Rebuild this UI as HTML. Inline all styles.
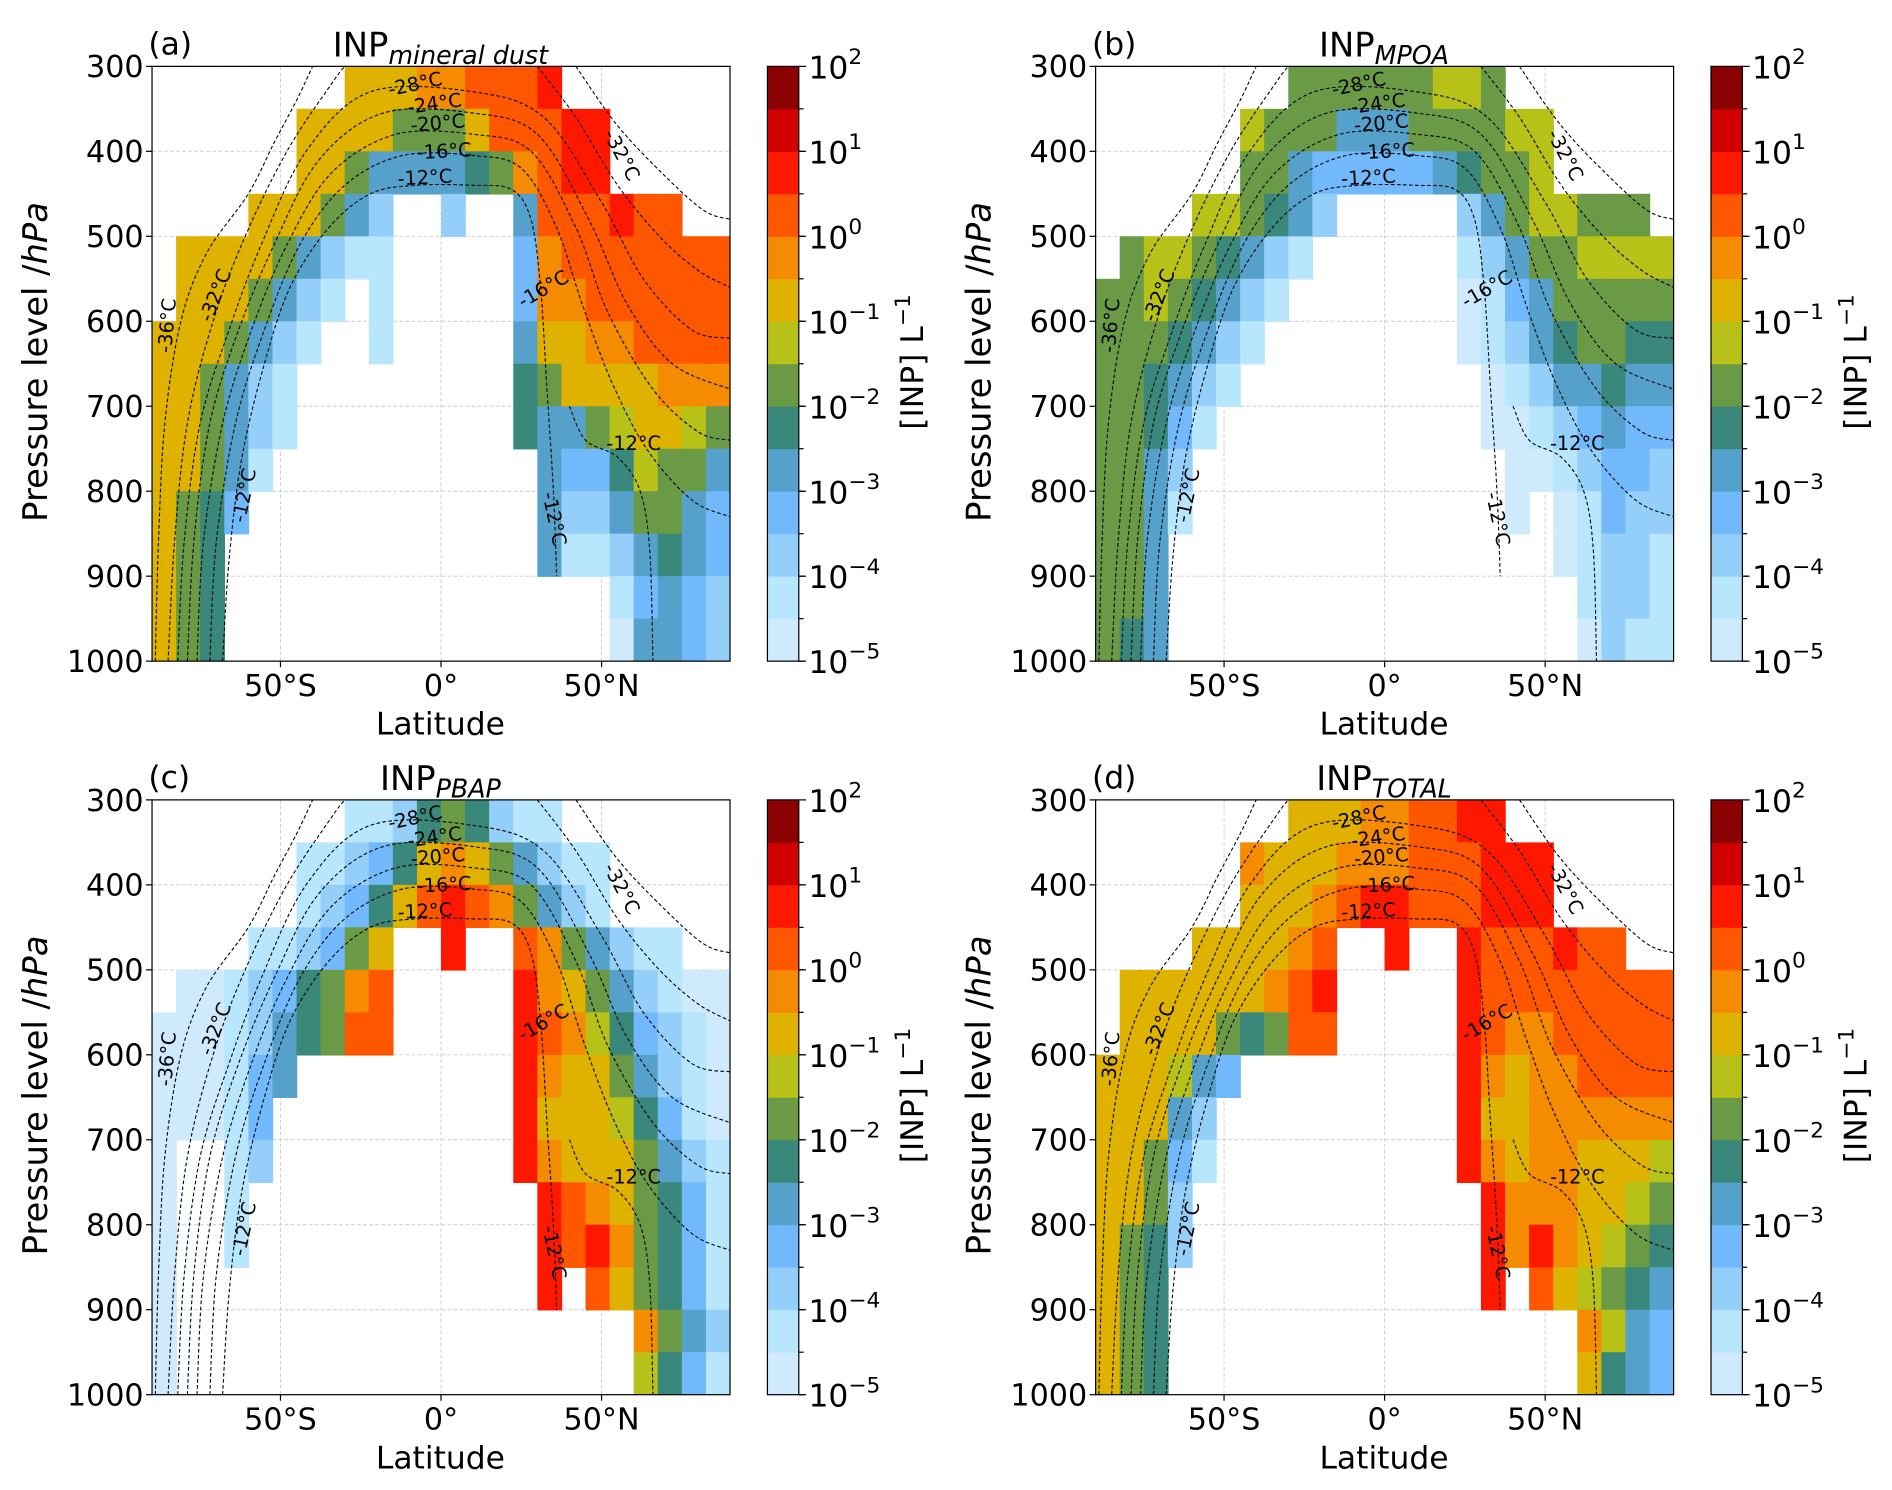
<!DOCTYPE html>
<html><head><meta charset="utf-8"><style>
html,body{margin:0;padding:0;background:#fff;}
svg{display:block;}
text{font-family:"DejaVu Sans","Liberation Sans",sans-serif;fill:#000;}
</style></head><body>
<svg id="fig" xmlns="http://www.w3.org/2000/svg" width="1892" height="1490" viewBox="0 0 1568 1235" preserveAspectRatio="none"></svg>
<script>
// ---- data ----
const latEdges = [-90,-82.5,-75,-67.5,-60,-52.5,-45,-37.5,-30,-22.5,-15,-7.5,0,7.5,15,22.5,30,37.5,45,52.5,60,67.5,75,82.5,90];
const presEdges = [300,350,400,450,500,550,600,650,700,750,800,850,900,950,1000];
const levelBounds = [-5,-4.5,-4,-3.5,-3,-2.5,-2,-1.5,-1,-0.5,0,0.5,1,1.5,2];
const levelColors = ["#cfe9fd","#b8e6fd","#94cffa","#72b9fb","#55a1cb","#3a877b","#6a9a46","#b7c118","#dfb200","#f48b00","#fe5700","#fe1800","#d00000","#8b0000"];
const cbTickExp = [-5,-4,-3,-2,-1,0,1,2];
const latTicks = [-50,0,50];
const latTickLabels = ["50°S","0°","50°N"];
const presTicks = [300,400,500,600,700,800,900,1000];
// level codes per cell (0-9,a-d = colour bin; '.' = no data), rows top (300hPa) to bottom
const dustGrid = [
"........88899aaab.......",
"......88886668aaabb.....",
"......8864444569abb.....",
"....888642..2..4aaabaa..",
".888864211.....39aaaaaaa",
".8886421.1.....399aaaaaa",
"8886421..1.....48899aaaa",
"886421.........568888999",
"886421.........544678876",
"88641...........43357664",
"8653............42246643",
"865.............41124543",
"865................13432",
"865................04432"];
const mpoaGrid = [
"........666666776.......",
"......7666444666677.....",
"......6643333345667.....",
"....776542.....24677666.",
".67765421......124667777",
"66765421.......013466666",
"6665421........012456655",
"665421..........01244544",
"66531...........00123433",
"6642.............0012332",
"6641.............0.01322",
"664................01221",
"664.................1221",
"654.................0211"];
const pbapGrid = [
"........112565211.......",
"......1123589864211.....",
"......12358aba96421.....",
"....112368..b..a964211..",
".00123569a.....b98642100",
"00012456aa.....ba9753210",
"000134.........b98864210",
"00013..........b88875310",
"0..12..........b98886421",
"0..1............ba986531",
"0..1............bab96531",
"0...............b.a86531",
"0...................9642",
"0...................7531"];
const totalGrid = [
"........88899aabb.......",
"......9888999aaabbb.....",
"......8889abbaaabbb.....",
"....88889a..b..baaabaa..",
".8888889ab.....baaaaaaaa",
".8888656aa.....ba99aaaaa",
"888743.........b9899aaaa",
"88842..........b88999999",
"88631..........b98998887",
"8862............b9998876",
"8652............b9b98765",
"865.............b.a87654",
"865.................9743",
"865.................8543"];
// isotherms as [lat, pressure] pairs
const isoM12 = [[-68,1000],[-66,880],[-62,760],[-55,650],[-47,560],[-35,490],[-22,450],[-8,440],[10,440],[22,445],[28,480],[31,560],[33,680],[35,800],[36,900]];
const isoM12b = [[40,700],[45,740],[55,760],[62,800],[65,870],[66,1000]];
const isoM16 = [[-72,1000],[-70,860],[-64,720],[-55,610],[-44,510],[-30,440],[-12,405],[10,405],[25,420],[36,490],[44,580],[53,670],[64,750],[78,810],[90,830]];
const isoM20 = [[-76,1000],[-74,860],[-68,720],[-59,610],[-48,510],[-34,425],[-14,380],[10,380],[28,400],[42,490],[52,590],[66,680],[80,730],[90,740]];
const isoM24 = [[-79,1000],[-77,860],[-72,720],[-63,610],[-52,510],[-38,410],[-18,355],[10,355],[30,380],[46,480],[58,580],[72,650],[90,680]];
const isoM28 = [[-82,1000],[-80,860],[-75,720],[-66,610],[-56,510],[-42,400],[-22,330],[10,330],[32,360],[50,460],[63,550],[78,610],[90,620]];
const isoM32 = [[-85,1000],[-83,860],[-79,720],[-71,600],[-61,500],[-48,400],[-34,320],[-30,300]];
const isoM32b = [[30,300],[42,360],[55,440],[68,500],[80,540],[90,560]];
const isoM36 = [[-89,1000],[-88,860],[-86,720],[-81,600],[-73,520],[-60,450],[-52,390],[-45,340],[-40,300]];
const isoM36b = [[42,300],[55,370],[70,430],[82,470],[90,480]];
const isoLines = [isoM12,isoM12b,isoM16,isoM20,isoM24,isoM28,isoM32,isoM32b,isoM36,isoM36b];
const isoLabelText = ["-28°C","-24°C","-20°C","-16°C","-12°C","-32°C","-32°C","-36°C","-16°C","-12°C","-12°C","-12°C"];
const isoLabelLat = [-8,-2,-1,1,-5,56,-70,-85,32,60,-61,35];
const isoLabelP = [322,345,368,401,432,405,570,605,563,745,805,833];
const isoLabelRot = [-12,-8,-5,-3,-3,62,-68,-85,-30,0,-78,78];

const svg = document.getElementById('fig');
const NS = 'http://www.w3.org/2000/svg';
function mk(tag, attrs, parent){ const e=document.createElementNS(NS,tag); for(const k in attrs) e.setAttribute(k,attrs[k]); (parent||svg).appendChild(e); return e; }

const X0=126, X1=605, Y0=55, Y1=548;
const panels = [
 {id:'a', dx:0, dy:0, grid:dustGrid, sub:'mineral dust'},
 {id:'b', dx:782, dy:0, grid:mpoaGrid, sub:'MPOA'},
 {id:'c', dx:0, dy:608, grid:pbapGrid, sub:'PBAP'},
 {id:'d', dx:782, dy:608, grid:totalGrid, sub:'TOTAL'}
];
function codeToIdx(ch){ if(ch==='.') return -1; return parseInt(ch,16); }
function smoothPath(pts){
  let d='M'+pts[0][0].toFixed(1)+' '+pts[0][1].toFixed(1);
  for(let i=0;i<pts.length-1;i++){
    const p0=pts[Math.max(0,i-1)],p1=pts[i],p2=pts[i+1],p3=pts[Math.min(pts.length-1,i+2)];
    const c1=[p1[0]+(p2[0]-p0[0])/6,p1[1]+(p2[1]-p0[1])/6], c2=[p2[0]-(p3[0]-p1[0])/6,p2[1]-(p3[1]-p1[1])/6];
    d+=' C'+c1[0].toFixed(1)+' '+c1[1].toFixed(1)+' '+c2[0].toFixed(1)+' '+c2[1].toFixed(1)+' '+p2[0].toFixed(1)+' '+p2[1].toFixed(1);
  }
  return d;
}

panels.forEach(P=>{
  const g = mk('g',{transform:`translate(${P.dx},${P.dy})`});
  
  
  const xs = lat=> X0+(lat+90)/180*(X1-X0);
  const ys = p=> Y0+(p-300)/700*(Y1-Y0);
  const clipId='clip'+P.id;
  const cp=mk('clipPath',{id:clipId},g); mk('rect',{x:X0,y:Y0,width:X1-X0,height:Y1-Y0},cp);
  latTicks.forEach(t=>{ const l=mk('line',{x1:xs(t),x2:xs(t),y1:Y0,y2:Y1,stroke:'#ccc','stroke-width':0.8,'stroke-dasharray':'3 2'},g);   });
  presTicks.forEach(t=>{ const l=mk('line',{x1:X0,x2:X1,y1:ys(t),y2:ys(t),stroke:'#ccc','stroke-width':0.8,'stroke-dasharray':'3 2'},g);   });
  const cells = mk('g',{'clip-path':`url(#${clipId})`},g);
  
  
  P.grid.forEach((row,r)=>{
    for(let c=0;c<row.length;c++){
      const k=codeToIdx(row[c]); if(k<0) continue;
      const x=xs(latEdges[c]), x2=xs(latEdges[c+1]), y=ys(presEdges[r]), y2=ys(presEdges[r+1]);
      const rc=mk('rect',{x:x,y:y,width:x2-x+0.6,height:y2-y+0.6,fill:levelColors[k]},cells);
      
      
    }
  });
  const iso = mk('g',{'clip-path':`url(#${clipId})`,fill:'none',stroke:'#000','stroke-width':0.9,'stroke-dasharray':'3 2'},g);
  
  
  isoLines.forEach(L=>{ const pth=mk('path',{d:smoothPath(L.map(q=>[xs(q[0]),ys(q[1])]))},iso);   });
  isoLabelText.forEach((t,i)=>{
    const x=xs(isoLabelLat[i]), y=ys(isoLabelP[i]);
    const tx=mk('text',{x:x,y:y,'font-size':16,'text-anchor':'middle','dominant-baseline':'middle',transform:`rotate(${isoLabelRot[i]} ${x} ${y})`},g);
    tx.textContent=t;
    
    
  });
  const fr=mk('rect',{x:X0,y:Y0,width:X1-X0,height:Y1-Y0,fill:'none',stroke:'#000','stroke-width':1},g);
   
  latTicks.forEach((t,i)=>{
    mk('line',{x1:xs(t),x2:xs(t),y1:Y1,y2:Y1+5,stroke:'#000'},g);
    const tx=mk('text',{x:xs(t),y:Y1+29,'font-size':25,'text-anchor':'middle'},g); tx.textContent=latTickLabels[i];
     
  });
  presTicks.forEach(t=>{
    mk('line',{x1:X0-5,x2:X0,y1:ys(t),y2:ys(t),stroke:'#000'},g);
    const tx=mk('text',{x:X0-7,y:ys(t)+9,'font-size':25,'text-anchor':'end'},g); tx.textContent=String(t);
     
  });
  const xl=mk('text',{x:365,y:609,'font-size':26,'text-anchor':'middle'},g); xl.textContent='Latitude';
   
  const yl=mk('text',{x:0,y:0,'font-size':28,'text-anchor':'middle',transform:'translate(39 300) rotate(-90)'},g);
  yl.innerHTML='Pressure level /<tspan font-style="italic">hPa</tspan>';
   
  const pl=mk('text',{x:123,y:45,'font-size':26},g); pl.textContent='('+P.id+')';
   
  const ti=mk('text',{x:365,y:47,'font-size':28,'text-anchor':'middle'},g);
  ti.innerHTML='INP<tspan font-size="21" font-style="italic" dy="6">'+P.sub+'</tspan>';
   
  const CX=636, CW=26;
  const cb=mk('g',{},g);  
  const cys = v=> Y1-(v+5)/7*(Y1-Y0);
  levelColors.forEach((col,k)=>{
    const y=cys(levelBounds[k+1]), y2=cys(levelBounds[k]);
    const rc=mk('rect',{x:CX,y:y,width:CW,height:y2-y+0.4,fill:col},cb);
     
    mk('line',{x1:CX+CW,x2:CX+CW+4,y1:y2,y2:y2,stroke:'#000'},cb);
  });
  mk('rect',{x:CX,y:Y0,width:CW,height:Y1-Y0,fill:'none',stroke:'#000','stroke-width':1},cb);
  cbTickExp.forEach(e=>{
    const y=cys(e);
    mk('line',{x1:CX+CW,x2:CX+CW+6,y1:y,y2:y,stroke:'#000'},cb);
    const tx=mk('text',{x:CX+CW+8,y:y+10,'font-size':26},cb);
    tx.innerHTML='10<tspan font-size="18" dy="-12">'+(e<0?'\u2212'+(-e):e)+'</tspan>';
     
  });
  const cl=mk('text',{x:0,y:0,'font-size':26,'text-anchor':'middle',transform:'translate(765 300) rotate(-90)'},g);
  cl.innerHTML='[INP] L<tspan font-size="18" dy="-11">\u22121</tspan>';
   
});
</script>
</body></html>
